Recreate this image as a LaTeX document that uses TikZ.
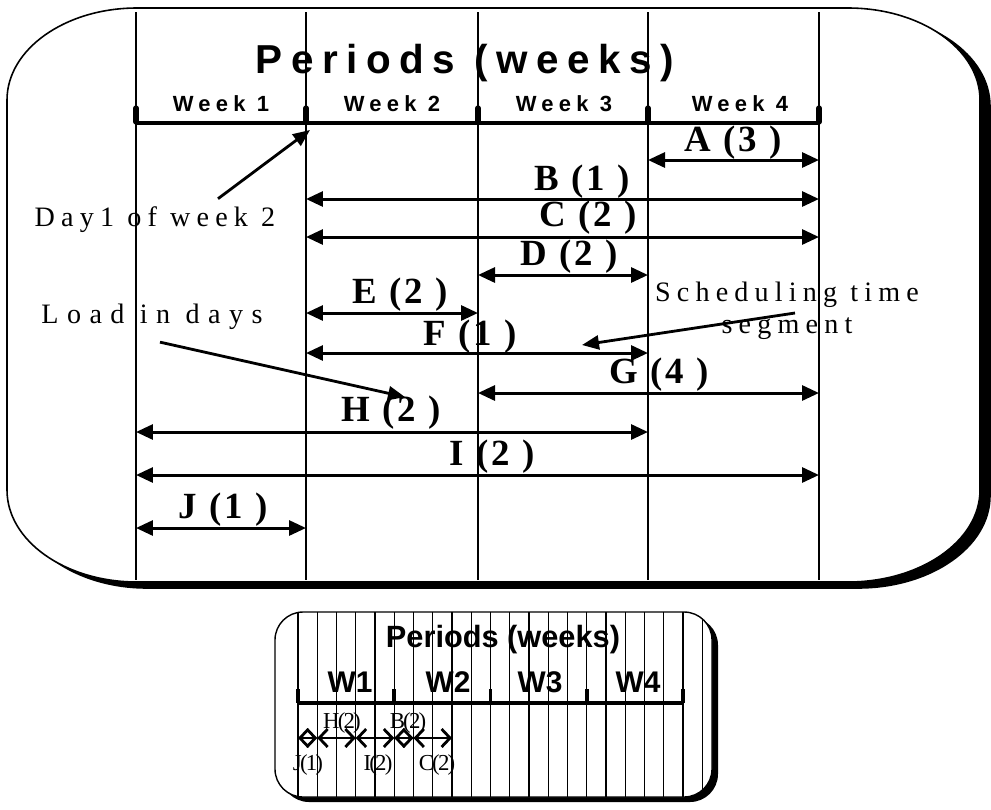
\documentclass[tikz,border=0pt]{standalone}
\usepackage{fontspec}
\setmainfont{Liberation Serif}
\newfontfamily\headfont[LetterSpace=21]{Liberation Sans}
\newfontfamily\weekfont[LetterSpace=24]{Liberation Sans}
\newfontfamily\notefont[LetterSpace=22]{Liberation Serif}
\newfontfamily\loadfont[LetterSpace=30]{Liberation Serif}
\newfontfamily\taskfont[LetterSpace=8]{Liberation Serif}
\newfontfamily\minisans{Liberation Sans}
\newfontfamily\miniserif[LetterSpace=-8]{Liberation Serif}
\usetikzlibrary{arrows.meta, calc}
\tikzset{
  gridline/.style={line width=0.6pt},
  weeklabel/.style={font=\weekfont\bfseries\fontsize{12.5}{14}\selectfont, inner sep=0pt},
  tasklabel/.style={font=\taskfont\bfseries\fontsize{21}{24}\selectfont, inner sep=0pt},
  taskarrow/.style={{Triangle[length=0.34cm,width=0.3cm]}-{Triangle[length=0.34cm,width=0.3cm]},
    line width=1.7pt},
  notelabel/.style={font=\notefont\fontsize{16}{18}\selectfont, inner sep=0pt},
  notearrow/.style={-{Triangle[length=0.34cm,width=0.28cm]}, line width=1.6pt},
  miniweek/.style={font=\minisans\bfseries\fontsize{17}{20}\selectfont, inner sep=0pt},
  minilabel/.style={font=\miniserif\fontsize{13}{14}\selectfont, inner sep=0pt},
  miniarrow/.style={{Straight Barb[length=0.17cm,width=0.36cm]}-{Straight Barb[length=0.17cm,width=0.36cm]},
    line width=1.6pt},
}

\begin{document}
\begin{tikzpicture}[x=0.02cm, y=-0.02cm]
  \useasboundingbox (0,0) rectangle (991,809);

  % big frame, shadow first
  \foreach \off/\fillcol in {1/black, 0/white} {
    \filldraw[fill=\fillcol, line width=0.9pt, shift={(10*\off,6*\off)}]
      (137,8) -- (848,8) arc[start angle=-90, end angle=0, x radius=132, y radius=92]
      -- (980,490) arc[start angle=0, end angle=90, x radius=132, y radius=92]
      -- (137,582) arc[start angle=90, end angle=180, x radius=130, y radius=92]
      -- (7,100) arc[start angle=180, end angle=270, x radius=130, y radius=92] -- cycle;
  }

  % week boundaries
  \foreach \i/\gx in {0/136,1/306,2/478,3/648,4/819} {
    \coordinate (g\i) at (\gx,12);
    \draw[gridline] (g\i) -- (g\i |- 0,580);
  }
  \draw[line width=2.2pt] (g0 |- 0,123) -- (g4 |- 0,123);
  \foreach \i in {0,...,4}
    \draw[line width=3pt, line cap=round] (g\i |- 0,108) -- (g\i |- 0,122);

  \node[font=\headfont\bfseries\fontsize{23}{26}\selectfont, inner sep=0pt]
       (periods) at (465,63) {Periods (weeks)};
  \foreach \i/\wx in {1/221,2/392,3/564,4/740}
    \node[weeklabel] (week\i) at (\wx,104) {Week \i};

  % operations with their loads
  \foreach \tname/\tload/\lx/\ly/\ay/\tfrom/\tto in {
      A/3/733/143/160/3/4, B/1/582/182/199/1/4, C/2/588/218/237/1/4,
      D/2/569/257/275/2/3, E/2/400/295/313/1/2, F/1/470/337/353/1/3,
      G/4/659/375/393/2/4, H/2/391/413/432/0/3, I/2/492/457/475/0/4,
      J/1/223/510/528/0/1} {
    \node[tasklabel] (task\tname) at (\lx,\ly) {\tname\ (\tload\ )};
    \draw[taskarrow] (g\tfrom |- 0,\ay) -- (g\tto |- 0,\ay);
  }

  % notes
  \node[notelabel] (dayone) at (155,220) {Day1 of week 2};
  \coordinate (dayonetip) at (310,130);
  \draw[notearrow] ($(dayone.north)+(63,-8)$) -- (dayonetip);

  \node[notelabel, font=\loadfont\fontsize{16}{18}\selectfont] (loaddays) at (152,317) {Load in days};
  \coordinate (loadtip) at (405,397);
  \draw[notearrow] ($(loaddays.south)+(8,12)$) -- (loadtip);

  \node[notelabel, align=center] (schedseg) at (787,311) {Scheduling time\\segment};
  \coordinate (schedtip) at (582,345);
  \draw[notearrow] ($(schedseg.center)+(8,2)$) -- (schedtip);

  % small frame
  \fill[rounded corners=0.56cm] (281,617) rectangle (718,802);
  \filldraw[fill=white, line width=0.8pt, rounded corners=0.56cm] (275,612) rectangle (712,797);
  \begin{scope}
    \clip[rounded corners=0.56cm] (275,612) rectangle (712,797);
    \foreach \k in {0,...,21} {
      \coordinate (d\k) at ({298+19.25*\k},738);
      \draw[gridline] (d\k |- 0,612) -- (d\k |- 0,797);
    }
  \end{scope}
  \draw[line width=1.8pt] (d0 |- 0,703) -- (d20 |- 0,703);
  \foreach \k in {0,5,...,20}
    \draw[line width=2pt] (d\k |- 0,689) -- (d\k |- 0,703);

  \node[miniweek, font=\minisans\bfseries\fontsize{17.5}{20}\selectfont] (miniperiods) at (503,640) {Periods (weeks)};
  \foreach \i/\wx in {1/350,2/448,3/540,4/638}
    \node[miniweek] (miniweek\i) at (\wx,682) {W\i};

  \foreach \tname/\tload/\lx/\ly/\tfrom/\tto in {
      J/1/308/765/0/1, H/2/342/723/1/3, I/2/378/765/3/5,
      B/2/408/723/5/6, C/2/437/765/6/8} {
    \node[minilabel] (mini\tname) at (\lx,\ly) {\tname(\tload)};
    \draw[miniarrow] (d\tfrom) -- (d\tto);
  }
\end{tikzpicture}
\end{document}
